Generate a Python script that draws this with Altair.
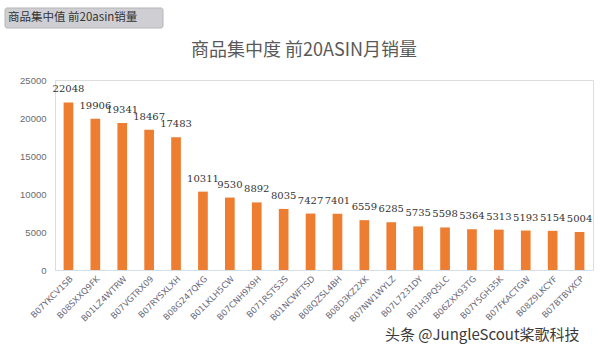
import altair as alt
import pandas as pd

asins = ["B07YKCV1SB", "B08SXXQ9FK", "B01LZ4WTRW", "B07VGTRX09", "B07RYSXLXH",
         "B08G247QKG", "B01LKLH5CW", "B07CNH9X9H", "B071RSTS3S", "B01NCWFTSD",
         "B08QZSL4BH", "B08D3KZ2XK", "B07NW1WYLZ", "B07L7231DY", "B01H3PQ5LC",
         "B06ZXX93TG", "B07Y5GH35K", "B07FKACTGW", "B08Z9LKCYF", "B07BTBVXCP"]
sales = [22048, 19906, 19341, 18467, 17483, 10311, 9530, 8892, 8035, 7427,
         7401, 6559, 6285, 5735, 5598, 5364, 5313, 5193, 5154, 5004]
y_ticks = [0, 5000, 10000, 15000, 20000, 25000]

df = pd.DataFrame({"asin": asins, "sales": sales})

x = alt.X("asin:N", sort=asins, title=None,
          scale=alt.Scale(paddingInner=0.64, paddingOuter=0.32),
          axis=alt.Axis(labelAngle=-45, labelFontSize=8.5, labelColor="#6a6a7a",
                        ticks=False, domainColor="#d6dfe8", labelPadding=4,
                        labelFont="DejaVu Sans"))
y = alt.Y("sales:Q", title=None,
          scale=alt.Scale(domain=[0, 25000], nice=False),
          axis=alt.Axis(values=y_ticks, format="d", grid=False, ticks=False,
                        labelOverlap=False, labelFlush=False,
                        domainColor="#d6dfe8", labelFontSize=9.5, labelColor="#6a6a6a",
                        labelPadding=9))

bars = alt.Chart(df).mark_bar(color="#ED7D31").encode(x=x, y=y)
labels = alt.Chart(df).mark_text(dy=-13, fontSize=10, color="#333333",
                                 font="DejaVu Serif").encode(
    x=x, y=y, text=alt.Text("sales:Q", format="d"))

one = pd.DataFrame({"t": ["商品集中值 前20asin销量"]})
box = alt.Chart(one).mark_rect(
    color="#cfcfd3", stroke="#b5b5b5", cornerRadius=2, clip=False).encode(
    x=alt.value(-50), x2=alt.value(108), y=alt.value(-72), y2=alt.value(-52))
box_text = alt.Chart(one).mark_text(
    align="left", baseline="middle", fontSize=11.5, color="#333333",
    font="Noto Sans CJK SC").encode(
    x=alt.value(-47), y=alt.value(-62), text="t:N")

title = alt.Chart(pd.DataFrame({"t": ["商品集中度 前20ASIN月销量"]})).mark_text(
    align="center", baseline="alphabetic", fontSize=18, color="#595959",
    font="Noto Sans CJK SC").encode(
    x=alt.value(249), y=alt.value(-24), text="t:N")

watermark = alt.Chart(pd.DataFrame({"t": ["头条 @JungleScout桨歌科技"]})).mark_text(
    align="left", baseline="middle", fontSize=15, color="#3a3a3a",
    font="Noto Sans CJK SC").encode(
    x=alt.value(330), y=alt.value(255), text="t:N")

chart = alt.layer(bars, labels, box, box_text, title, watermark).properties(
    width=538, height=190,
    padding={"left": 55, "top": 80, "right": 7, "bottom": 84},
    autosize=alt.AutoSizeParams(type="none"),
).configure_view(stroke=None).configure(background="white")

chart.save("out.html", embed_options={"renderer": "svg", "actions": False})
